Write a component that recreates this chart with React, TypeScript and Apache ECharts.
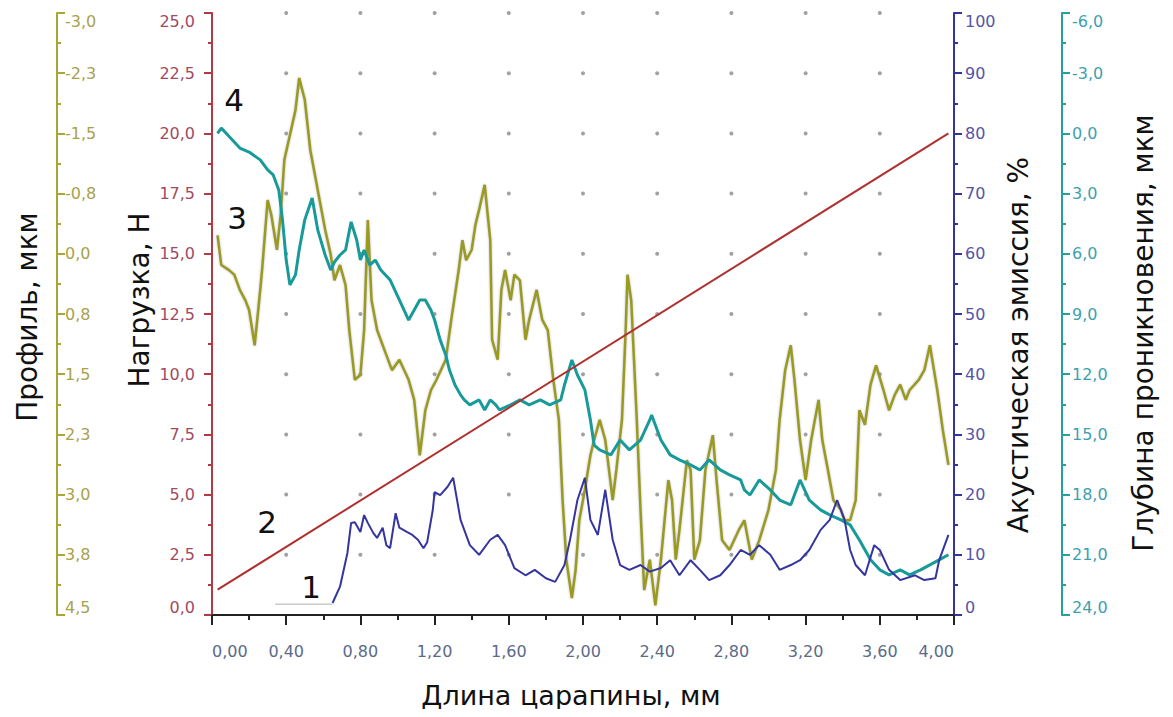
import React, { useEffect, useRef } from "react";
import * as echarts from "echarts";

// ---- data ----
const loadData: [number, number][] = [
  [0.03, 1.05],
  [3.97, 20.0],
];

const acousticBase: [number, number][] = [
  [0.34, 1.8],
  [0.65, 1.8],
];

const acousticData: [number, number][] = [
  [0.65, 2.0], [0.69, 4.7], [0.73, 10.3], [0.75, 15.3], [0.77, 15.4], [0.8, 13.8], [0.82, 16.6],
  [0.84, 15.3], [0.87, 13.6], [0.89, 12.8], [0.92, 14.5], [0.94, 11.6], [0.96, 11.1], [0.99, 16.9],
  [1.01, 14.5], [1.05, 13.8], [1.08, 13.3], [1.11, 12.5], [1.14, 11.1], [1.16, 12.1], [1.19, 17.4],
  [1.2, 20.4], [1.23, 19.9], [1.27, 21.3], [1.3, 22.8], [1.34, 15.8], [1.39, 11.6], [1.44, 10.0],
  [1.5, 12.5], [1.54, 13.3], [1.58, 11.6], [1.63, 7.8], [1.69, 6.6], [1.74, 7.5], [1.8, 6.1],
  [1.85, 5.5], [1.9, 8.3], [1.93, 12.5], [1.97, 19.1], [2.01, 22.8], [2.04, 15.8], [2.08, 13.3],
  [2.12, 20.8], [2.16, 12.5], [2.2, 8.3], [2.25, 7.5], [2.31, 8.3], [2.36, 7.2], [2.42, 7.8],
  [2.47, 9.1], [2.52, 6.6], [2.58, 9.1], [2.63, 7.5], [2.68, 5.8], [2.74, 6.6], [2.79, 8.3],
  [2.85, 10.8], [2.9, 10.0], [2.95, 11.6], [3.01, 10.0], [3.06, 7.5], [3.12, 8.3], [3.17, 9.1],
  [3.22, 10.8], [3.28, 14.1], [3.33, 15.8], [3.37, 19.1], [3.41, 15.8], [3.44, 10.8], [3.47, 8.3],
  [3.52, 6.6], [3.57, 11.6], [3.6, 10.8], [3.65, 7.5], [3.71, 5.8], [3.79, 6.6], [3.84, 5.8],
  [3.9, 6.1], [3.92, 9.1], [3.97, 13.3],
];

const profileData: [number, number][] = [
  [0.03, -0.23], [0.05, 0.14], [0.09, 0.2], [0.12, 0.26], [0.15, 0.45], [0.18, 0.58], [0.2, 0.7],
  [0.23, 1.14], [0.26, 0.45], [0.27, 0.2], [0.3, -0.67], [0.32, -0.48], [0.35, -0.05], [0.37, -0.48],
  [0.39, -1.17], [0.42, -1.48], [0.45, -1.79], [0.47, -2.19], [0.5, -1.92], [0.53, -1.29],
  [0.56, -0.92], [0.58, -0.67], [0.61, -0.3], [0.64, 0.01], [0.66, 0.33], [0.69, 0.14], [0.72, 0.39],
  [0.74, 0.95], [0.77, 1.57], [0.8, 1.51], [0.82, 0.95], [0.84, -0.42], [0.86, 0.58], [0.89, 0.95],
  [0.93, 1.2], [0.97, 1.45], [1.01, 1.32], [1.06, 1.57], [1.09, 1.82], [1.12, 2.51], [1.15, 1.95],
  [1.18, 1.7], [1.21, 1.57], [1.26, 1.32], [1.29, 0.82], [1.33, 0.2], [1.35, -0.17], [1.37, 0.08],
  [1.4, -0.05], [1.42, -0.36], [1.44, -0.55], [1.47, -0.86], [1.5, -0.17], [1.51, 1.07], [1.54, 1.32],
  [1.56, 0.45], [1.58, 0.2], [1.61, 0.58], [1.63, 0.26], [1.66, 0.33], [1.69, 1.07], [1.71, 0.82],
  [1.75, 0.45], [1.78, 0.82], [1.81, 0.95], [1.84, 1.57], [1.87, 2.07], [1.89, 3.07], [1.91, 3.81],
  [1.94, 4.29], [1.96, 3.94], [1.98, 3.32], [2.01, 2.94], [2.04, 2.51], [2.06, 2.32], [2.09, 2.07],
  [2.12, 2.32], [2.14, 2.69], [2.16, 3.07], [2.18, 2.69], [2.21, 2.07], [2.23, 0.95], [2.24, 0.26],
  [2.26, 0.58], [2.29, 2.07], [2.31, 3.19], [2.33, 4.19], [2.36, 3.81], [2.39, 4.38], [2.42, 3.81],
  [2.46, 2.82], [2.48, 3.07], [2.5, 3.81], [2.52, 3.44], [2.56, 2.57], [2.58, 2.69], [2.6, 3.81],
  [2.63, 3.57], [2.66, 2.69], [2.7, 2.26], [2.72, 2.82], [2.75, 3.57], [2.79, 3.69], [2.84, 3.44],
  [2.87, 3.32], [2.91, 3.81], [2.95, 3.57], [3.0, 3.19], [3.04, 2.69], [3.06, 2.07], [3.09, 1.45],
  [3.12, 1.14], [3.14, 1.57], [3.17, 2.32], [3.2, 2.82], [3.23, 2.32], [3.27, 1.82], [3.29, 2.32],
  [3.32, 2.69], [3.35, 3.07], [3.39, 3.19], [3.41, 3.32], [3.44, 3.32], [3.47, 3.07], [3.49, 1.95],
  [3.52, 2.13], [3.55, 1.63], [3.58, 1.39], [3.62, 1.7], [3.65, 1.95], [3.68, 1.76], [3.71, 1.63],
  [3.74, 1.82], [3.76, 1.7], [3.81, 1.57], [3.84, 1.45], [3.87, 1.14], [3.91, 1.7], [3.94, 2.2],
  [3.97, 2.63],
];

const depthData: [number, number][] = [
  [0.03, 0.0], [0.05, -0.27], [0.1, 0.23], [0.15, 0.73], [0.2, 0.93], [0.26, 1.32], [0.3, 1.82],
  [0.33, 2.07], [0.36, 2.82], [0.38, 4.31], [0.4, 6.31], [0.42, 7.55], [0.45, 7.05], [0.47, 5.81],
  [0.5, 4.31], [0.54, 3.22], [0.57, 4.81], [0.61, 6.06], [0.64, 6.81], [0.66, 6.41], [0.69, 6.06],
  [0.72, 5.81], [0.75, 4.41], [0.78, 5.31], [0.8, 6.31], [0.82, 5.81], [0.85, 6.56], [0.88, 6.31],
  [0.91, 6.81], [0.96, 7.3], [1.01, 8.3], [1.06, 9.3], [1.09, 8.8], [1.12, 8.3], [1.15, 8.3],
  [1.18, 8.8], [1.2, 9.3], [1.23, 10.29], [1.26, 11.04], [1.28, 11.79], [1.31, 12.54], [1.34, 13.03],
  [1.36, 13.28], [1.39, 13.53], [1.44, 13.28], [1.47, 13.78], [1.5, 13.28], [1.53, 13.53],
  [1.55, 13.78], [1.61, 13.53], [1.66, 13.28], [1.71, 13.53], [1.77, 13.28], [1.82, 13.53],
  [1.88, 13.28], [1.9, 12.54], [1.94, 11.29], [1.97, 12.04], [2.01, 12.78], [2.04, 14.28],
  [2.06, 15.53], [2.09, 15.77], [2.15, 16.02], [2.2, 15.28], [2.25, 15.77], [2.31, 15.28],
  [2.36, 14.28], [2.37, 14.03], [2.42, 15.28], [2.47, 16.02], [2.52, 16.27], [2.58, 16.52],
  [2.63, 16.77], [2.68, 16.27], [2.74, 16.77], [2.79, 17.02], [2.85, 17.27], [2.87, 17.77],
  [2.9, 18.02], [2.95, 17.27], [3.01, 17.77], [3.06, 18.27], [3.12, 18.51], [3.17, 17.27],
  [3.22, 18.27], [3.28, 18.76], [3.33, 19.01], [3.39, 19.26], [3.44, 19.51], [3.49, 20.26],
  [3.55, 21.25], [3.6, 21.75], [3.65, 22.0], [3.71, 21.75], [3.76, 22.0], [3.82, 21.75],
  [3.87, 21.5], [3.92, 21.25], [3.97, 21.0],
];

const xDots = [0.4, 0.8, 1.2, 1.6, 2.0, 2.4, 2.8, 3.2, 3.6];
const yDots = [2.5, 5, 7.5, 10, 12.5, 15, 17.5, 20, 22.5, 25];

const curveLabels = ["1", "2", "3", "4"];

const comma = (d: number) => (v: number) => v.toFixed(d).replace(".", ",");

const FONT = "DejaVu Sans";

export default function App() {
  const ref = useRef<HTMLDivElement>(null);

  useEffect(() => {
    if (!ref.current) return;
    const chart = echarts.init(ref.current, null, { renderer: "svg" });

    const dotData: [number, number][] = [];
    xDots.forEach((x) => yDots.forEach((y) => dotData.push([x, y])));

    const yAxisCommon = (color: string, labelColor: string) => ({
      type: "value" as const,
      splitLine: { show: false },
      axisLine: { show: true, lineStyle: { color, width: 2 } },
      axisTick: { show: true, length: 8, lineStyle: { color, width: 2 } },
      minorTick: { show: true, splitNumber: 2, length: 4, lineStyle: { color, width: 2 } },
      axisLabel: {
        color: labelColor,
        fontSize: 16,
        fontFamily: FONT,
        verticalAlignMinLabel: "bottom",
        verticalAlignMaxLabel: "top",
      },
    });

    const option: any = {
      animation: false,
      backgroundColor: "#ffffff",
      grid: { left: 212, right: 219, top: 13, bottom: 102, containLabel: false },
      xAxis: {
        type: "value",
        min: 0,
        max: 4,
        interval: 0.4,
        offset: 8,
        splitLine: { show: false },
        axisLine: { show: true, lineStyle: { color: "#222", width: 2 } },
        axisTick: { show: true, length: 10, lineStyle: { color: "#222", width: 2 } },
        minorTick: { show: true, splitNumber: 2, length: 5, lineStyle: { color: "#222", width: 2 } },
        axisLabel: {
          formatter: comma(2),
          color: "#5a6a8a",
          fontSize: 16,
          fontFamily: FONT,
          margin: 20,
          alignMinLabel: "left",
          alignMaxLabel: "right",
        },
      },
      yAxis: [
        {
          ...yAxisCommon("#b23a44", "#a24a62"),
          position: "left",
          offset: 6,
          min: 0,
          max: 25,
          interval: 2.5,
          axisLabel: {
            ...yAxisCommon("#b23a44", "#a24a62").axisLabel,
            formatter: comma(1),
            margin: 11,
          },
        },
        {
          ...yAxisCommon("#aaa636", "#a8a24c"),
          position: "left",
          offset: 155,
          inverse: true,
          min: -3,
          max: 4.5,
          interval: 0.75,
          axisTick: { show: true, inside: true, length: 8, lineStyle: { color: "#aaa636", width: 2 } },
          minorTick: { show: true, splitNumber: 2, length: 4, lineStyle: { color: "#aaa636", width: 2 } },
          axisLabel: {
            ...yAxisCommon("#aaa636", "#a8a24c").axisLabel,
            inside: true,
            margin: 8,
            formatter: comma(1),
            verticalAlignMinLabel: "top",
            verticalAlignMaxLabel: "bottom",
          },
        },
        {
          ...yAxisCommon("#34349c", "#5454a8"),
          position: "right",
          offset: 0,
          min: 0,
          max: 100,
          interval: 10,
          axisLabel: {
            ...yAxisCommon("#34349c", "#5454a8").axisLabel,
            margin: 11,
            formatter: (v: number) => String(v),
          },
        },
        {
          ...yAxisCommon("#24a0a0", "#3e9fb0"),
          position: "right",
          offset: 108,
          inverse: true,
          min: -6,
          max: 24,
          interval: 3,
          axisLabel: {
            ...yAxisCommon("#24a0a0", "#3e9fb0").axisLabel,
            margin: 10,
            formatter: comma(1),
            verticalAlignMinLabel: "top",
            verticalAlignMaxLabel: "bottom",
          },
        },
      ],
      series: [
        {
          type: "scatter",
          xAxisIndex: 0,
          yAxisIndex: 0,
          data: dotData,
          symbol: "circle",
          symbolSize: 4,
          itemStyle: { color: "#8a8a8a" },
          silent: true,
          z: 1,
        },
        {
          name: "Профиль",
          type: "line",
          yAxisIndex: 1,
          data: profileData,
          showSymbol: false,
          lineStyle: { color: "#9a9a1c", width: 2.5, shadowColor: "rgba(140,140,140,0.6)", shadowBlur: 2 },
          z: 2,
        },
        {
          name: "Глубина проникновения",
          type: "line",
          yAxisIndex: 3,
          data: depthData,
          showSymbol: false,
          lineStyle: { color: "#189a9a", width: 3 },
          z: 3,
        },
        {
          name: "Нагрузка",
          type: "line",
          yAxisIndex: 0,
          data: loadData,
          showSymbol: false,
          lineStyle: { color: "#b03030", width: 2 },
          z: 4,
        },
        {
          name: "Акустическая эмиссия (фон)",
          type: "line",
          yAxisIndex: 2,
          data: acousticBase,
          showSymbol: false,
          lineStyle: { color: "#b0b0b0", width: 1 },
          z: 4,
        },
        {
          name: "Акустическая эмиссия",
          type: "line",
          yAxisIndex: 2,
          data: acousticData,
          showSymbol: false,
          lineStyle: { color: "#3535a0", width: 2 },
          z: 5,
        },
      ],
      graphic: [
        {
          type: "text", x: 27, y: 317, rotation: Math.PI / 2,
          style: { text: "Профиль, мкм", fontSize: 28, fontFamily: FONT, fill: "#111", textAlign: "center", textVerticalAlign: "middle" },
        },
        {
          type: "text", x: 139, y: 300, rotation: Math.PI / 2,
          style: { text: "Нагрузка, Н", fontSize: 28, fontFamily: FONT, fill: "#111", textAlign: "center", textVerticalAlign: "middle" },
        },
        {
          type: "text", x: 1018, y: 345, rotation: Math.PI / 2,
          style: { text: "Акустическая эмиссия, %", fontSize: 28, fontFamily: FONT, fill: "#111", textAlign: "center", textVerticalAlign: "middle" },
        },
        {
          type: "text", x: 1143, y: 333, rotation: Math.PI / 2,
          style: { text: "Глубина проникновения, мкм", fontSize: 28, fontFamily: FONT, fill: "#111", textAlign: "center", textVerticalAlign: "middle" },
        },
        {
          type: "text", x: 571, y: 695,
          style: { text: "Длина царапины, мм", fontSize: 27, fontFamily: FONT, fill: "#111", textAlign: "center", textVerticalAlign: "middle" },
        },
        {
          type: "text", x: 311, y: 587,
          style: { text: curveLabels[0], fontSize: 31, fontFamily: FONT, fill: "#111", textAlign: "center", textVerticalAlign: "middle" },
        },
        {
          type: "text", x: 267, y: 522,
          style: { text: curveLabels[1], fontSize: 31, fontFamily: FONT, fill: "#111", textAlign: "center", textVerticalAlign: "middle" },
        },
        {
          type: "text", x: 237, y: 218,
          style: { text: curveLabels[2], fontSize: 31, fontFamily: FONT, fill: "#111", textAlign: "center", textVerticalAlign: "middle" },
        },
        {
          type: "text", x: 234, y: 100,
          style: { text: curveLabels[3], fontSize: 31, fontFamily: FONT, fill: "#111", textAlign: "center", textVerticalAlign: "middle" },
        },
      ],
    };

    chart.setOption(option);
    return () => chart.dispose();
  }, []);

  return <div ref={ref} style={{ width: 1173, height: 717, margin: -8 }} />;
}
